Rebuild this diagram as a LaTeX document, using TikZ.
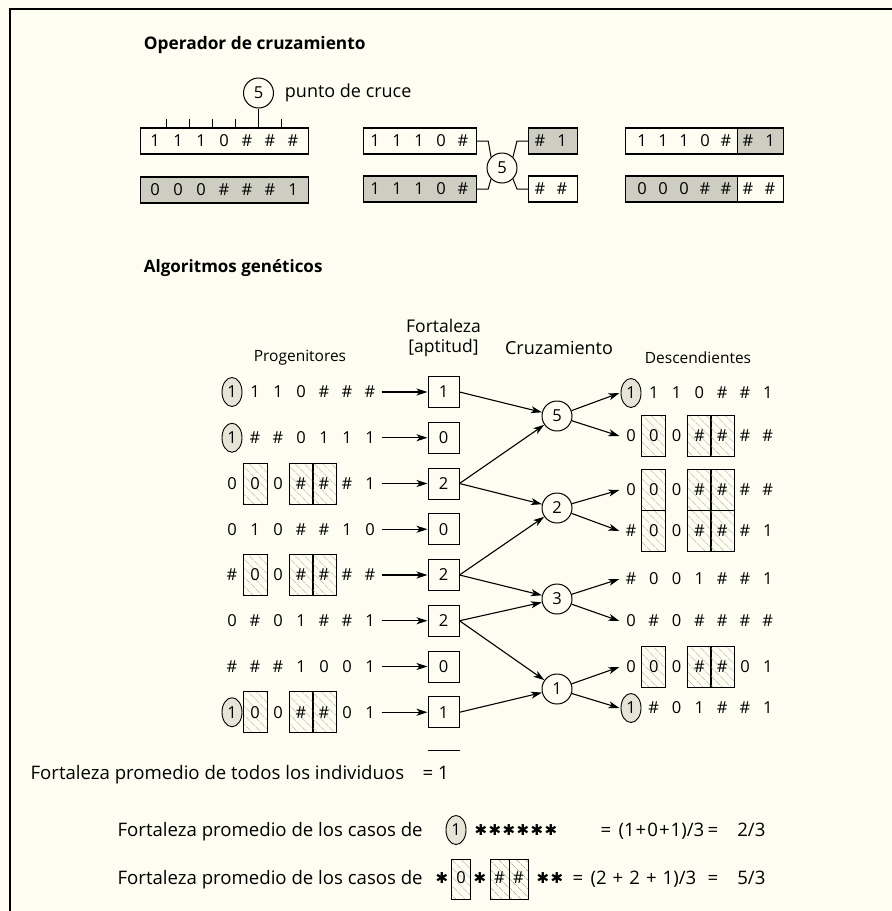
\documentclass[tikz,border=0pt]{standalone}
\usepackage{fontspec}
\setmainfont{Open Sans}
\newfontfamily\starfont{DejaVu Sans}
\usetikzlibrary{arrows.meta,shapes.geometric,patterns.meta}
\definecolor{paper}{RGB}{254,253,242}
\definecolor{shade}{RGB}{205,205,193}
\definecolor{ovalfill}{RGB}{229,229,215}
\definecolor{hatchline}{RGB}{150,150,140}
\newcommand{\bitfont}{\fontsize{16.5}{19}\selectfont}
\newcommand{\lblfont}{\fontsize{15.5}{18}\selectfont}
\newcommand{\txtfont}{\fontsize{18.6}{22}\selectfont}

\begin{document}
\begin{tikzpicture}[x=1pt, y=-1pt, line width=1.2pt,
  bit/.style={inner sep=0pt, minimum width=22pt, font=\bitfont},
  chrom/.style={draw, anchor=west, minimum height=26pt, inner sep=0pt},
  shaded/.style={chrom, fill=shade},
  oval/.style={ellipse, draw, fill=ovalfill, line width=0.9pt, minimum width=20pt, minimum height=29pt, inner sep=0pt},
  hatchbox/.style={draw, line width=1pt, minimum width=24pt, minimum height=41pt, inner sep=0pt,
    pattern={Lines[angle=-45, distance=6.5pt, line width=0.45pt]}, pattern color=hatchline},
  smallbox/.style={hatchbox, minimum width=19pt, minimum height=40pt},
  fitbox/.style={draw, line width=1pt, minimum size=31pt, inner sep=0pt, font=\bitfont},
  cross/.style={circle, draw, line width=1pt, minimum size=30pt, inner sep=0pt, font=\bitfont},
  arr/.style={-{Stealth[length=11pt, width=7pt, inset=3pt]}, line width=1.1pt},
  lbl/.style={font=\lblfont, inner sep=0pt},
  txt/.style={font=\txtfont, inner sep=0pt},
  star/.style={font=\starfont\fontsize{15}{15}\selectfont, inner sep=0pt}]

\useasboundingbox (0,0) rectangle (892,911);
\fill[paper] (0,0) rectangle (892,911);
\draw[line width=1.5pt] (892,9) -- (10,9) -- (10,911);

% operador de cruzamiento
\node[anchor=west, font=\fontsize{17.3}{20}\bfseries] (optitle) at (140,45) {Operador de cruzamiento};

\node[chrom, minimum width=168pt] (ua) at (140,141) {};
\node[shaded, minimum width=168pt] (ub) at (140,190) {};
\foreach \c [count=\k] in {1,1,1,0,\#,\#,\#} \node[bit] (ua\k) at ({155+23*(\k-1)},141) {\c};
\foreach \c [count=\k] in {0,0,0,\#,\#,\#,1} \node[bit] (ub\k) at ({155+23*(\k-1)},190) {\c};
\foreach \t in {1,2,3,4,6} \draw[line width=1pt] ({143.5+23*\t},128) -- ({143.5+23*\t},119);
\node[cross] (uc) at (258.5,93) {5};
\draw[line width=1pt] (uc) -- (uc |- ua.north);
\node[anchor=west, font=\fontsize{18}{20}\selectfont] (uclabel) at (281,93) {punto de cruce};

\node[chrom, minimum width=113pt] (va) at (363,141) {};
\node[shaded, minimum width=113pt] (vb) at (363,189) {};
\foreach \c [count=\k] in {1,1,1,0,\#} \node[bit] (va\k) at ({375+22*(\k-1)},141) {\c};
\foreach \c [count=\k] in {1,1,1,0,\#} \node[bit] (vb\k) at ({375+22*(\k-1)},189) {\c};
\node[cross] (vx) at (502,168) {5};
\node[shaded, minimum width=49pt] (vc) at (528,141) {};
\node[chrom, minimum width=49pt] (vd) at (528,189) {};
\foreach \c [count=\k] in {\#,1} \node[bit] (vc\k) at ({540+22*(\k-1)},141) {\c};
\foreach \c [count=\k] in {\#,\#} \node[bit] (vd\k) at ({540+22*(\k-1)},189) {\c};
\draw[line width=1pt] (va.east) -- ++(11,0) -- (vx.135);
\draw[line width=1pt] (vb.east) -- ++(11,0) -- (vx.225);
\draw[line width=1pt] (vx.45) -- ([xshift=-11pt]vc.west) -- (vc.west);
\draw[line width=1pt] (vx.-45) -- ([xshift=-11pt]vd.west) -- (vd.west);

\node[chrom, minimum width=112pt] (wa) at (625,141) {};
\node[shaded, minimum width=46pt] (wb) at (737,141) {};
\node[shaded, minimum width=112pt] (wc) at (625,189) {};
\node[chrom, minimum width=46pt] (wd) at (737,189) {};
\foreach \c [count=\k] in {1,1,1,0,\#} \node[bit] (wa\k) at ({642+21*(\k-1)},141) {\c};
\foreach \c [count=\k] in {\#,1} \node[bit] (wb\k) at ({748+22*(\k-1)},141) {\c};
\foreach \c [count=\k] in {0,0,0,\#,\#} \node[bit] (wc\k) at ({642+21*(\k-1)},189) {\c};
\foreach \c [count=\k] in {\#,\#} \node[bit] (wd\k) at ({748+22*(\k-1)},189) {\c};

% algoritmos geneticos
\node[anchor=west, font=\fontsize{17}{20}\bfseries] (gatitle) at (140,268) {Algoritmos genéticos};

\node[lbl] (hprog) at (300,358) {Progenitores};
\node[lbl, font=\fontsize{17.5}{20}\selectfont] (hfit) at (443.5,326) {Fortaleza};
\node[lbl, font=\fontsize{17.5}{20}\selectfont] (hapt) at (443.5,348) {[aptitud]};
\node[lbl, font=\fontsize{18}{20}\selectfont] (hcross) at (559,348) {Cruzamiento};
\node[lbl] (hdesc) at (698,358) {Descendientes};

% progenitores
\foreach \r in {1,2,8} \node[oval] (po\r) at (232,{392+45.75*(\r-1)}) {};
\foreach \r in {3,5,8} \foreach \k in {2,4,5}
  \node[hatchbox] (ph\r-\k) at ({232+23*(\k-1)},{392+45.75*(\r-1)}) {};
\foreach \r/\s in {1/{1,1,1,0,\#,\#,\#}, 2/{1,\#,\#,0,1,1,1}, 3/{0,0,0,\#,\#,\#,1}, 4/{0,1,0,\#,\#,1,0},
                  5/{\#,0,0,\#,\#,\#,\#}, 6/{0,\#,0,1,\#,\#,1}, 7/{\#,\#,\#,1,0,0,1}, 8/{1,0,0,\#,\#,0,1}}
  \foreach \c [count=\k] in \s \node[bit] (p\r-\k) at ({232+23*(\k-1)},{392+45.75*(\r-1)}) {\c};

% fortaleza
\foreach \r/\v in {1/1,2/0,3/2,4/0,5/2,6/2,7/0,8/1} {
  \node[fitbox] (f\r) at (443.5,{392+45.75*(\r-1)}) {\v};
  \draw[arr] (p\r-7) -- (f\r);
}

% cruzamiento
\node[cross] (x5) at (557,416) {5};
\node[cross] (x2) at (557,508) {2};
\node[cross] (x3) at (557,599) {3};
\node[cross] (x1) at (557,689) {1};
\foreach \a/\b in {1/x5,3/x5,3/x2,5/x2,5/x3,6/x3,6/x1,8/x1} \draw[arr] (f\a.east) -- (\b);

% descendientes
\foreach \r/\py in {1/393,8/708} \node[oval] (do\r) at (631,\py) {};
\foreach \r/\py in {2/436,3/490,4/531,7/667} \foreach \k in {2,4,5}
  \node[hatchbox] (dh\r-\k) at ({631+22.8*(\k-1)},\py) {};
\foreach \r/\py/\s in {1/393/{1,1,1,0,\#,\#,1}, 2/436/{0,0,0,\#,\#,\#,\#}, 3/490/{0,0,0,\#,\#,\#,\#}, 4/531/{\#,0,0,\#,\#,\#,1},
                      5/579/{\#,0,0,1,\#,\#,1}, 6/621/{0,\#,0,\#,\#,\#,\#}, 7/667/{0,0,0,\#,\#,0,1}, 8/708/{1,\#,0,1,\#,\#,1}}
  \foreach \c [count=\k] in \s \node[bit] (d\r-\k) at ({631+22.8*(\k-1)},\py) {\c};
\foreach \a/\r in {x5/1,x5/2,x2/3,x2/4,x3/5,x3/6,x1/7,x1/8} \draw[arr] (\a) -- (d\r-1.west);

% promedios
\draw[line width=1pt] ([yshift=-22pt]f8.south west) -- ([yshift=-22pt]f8.south east);
\node[txt, anchor=base west] (avg) at (30,779) {Fortaleza promedio de todos los individuos};
\node[txt, anchor=base] (avgeq) at (428,779) {=};
\node[txt, anchor=base] (avgval) at (443.5,779) {1};

\node[txt, anchor=base west] (avga) at (117,836) {Fortaleza promedio de los casos de};
\node[oval] (avgao) at (456,830) {};
\node[bit] (avgad) at (456,830) {1};
\foreach \k in {0,...,5} \node[star] (avgas\k) at ({481+14*\k},830) {✱};
\node[txt, anchor=base] (avgaeq) at (606,836) {=};
\node[txt, anchor=base west] (avgaf) at (618,836) {(1\hspace{1pt}+\hspace{1pt}0\hspace{1pt}+\hspace{1pt}1)/3};
\node[txt, anchor=base] (avgaeq2) at (713,836) {=};
\node[txt, anchor=base east] (avgar) at (766,836) {2/3};

\node[txt, anchor=base west] (avgb) at (117,884) {Fortaleza promedio de los casos de};
\node[smallbox] (avgb2) at (461,879) {};
\node[smallbox] (avgb4) at (499.5,879) {};
\node[smallbox] (avgb5) at (518.5,879) {};
\node[star] (avgs1) at (442,878) {✱};
\node[bit] (avgc2) at (461,878) {0};
\node[star] (avgs3) at (480,878) {✱};
\node[bit] (avgc4) at (499.5,878) {\#};
\node[bit] (avgc5) at (518.5,878) {\#};
\node[star] (avgs6) at (543,878) {✱};
\node[star] (avgs7) at (557,878) {✱};
\node[txt, anchor=base] (avgbeq) at (578,884) {=};
\node[txt, anchor=base west] (avgbf) at (590,884) {(2\hspace{6pt}+\hspace{6pt}2\hspace{6pt}+\hspace{6pt}1)/3};
\node[txt, anchor=base] (avgbeq2) at (713,884) {=};
\node[txt, anchor=base east] (avgbr) at (766,884) {5/3};
\end{tikzpicture}
\end{document}
